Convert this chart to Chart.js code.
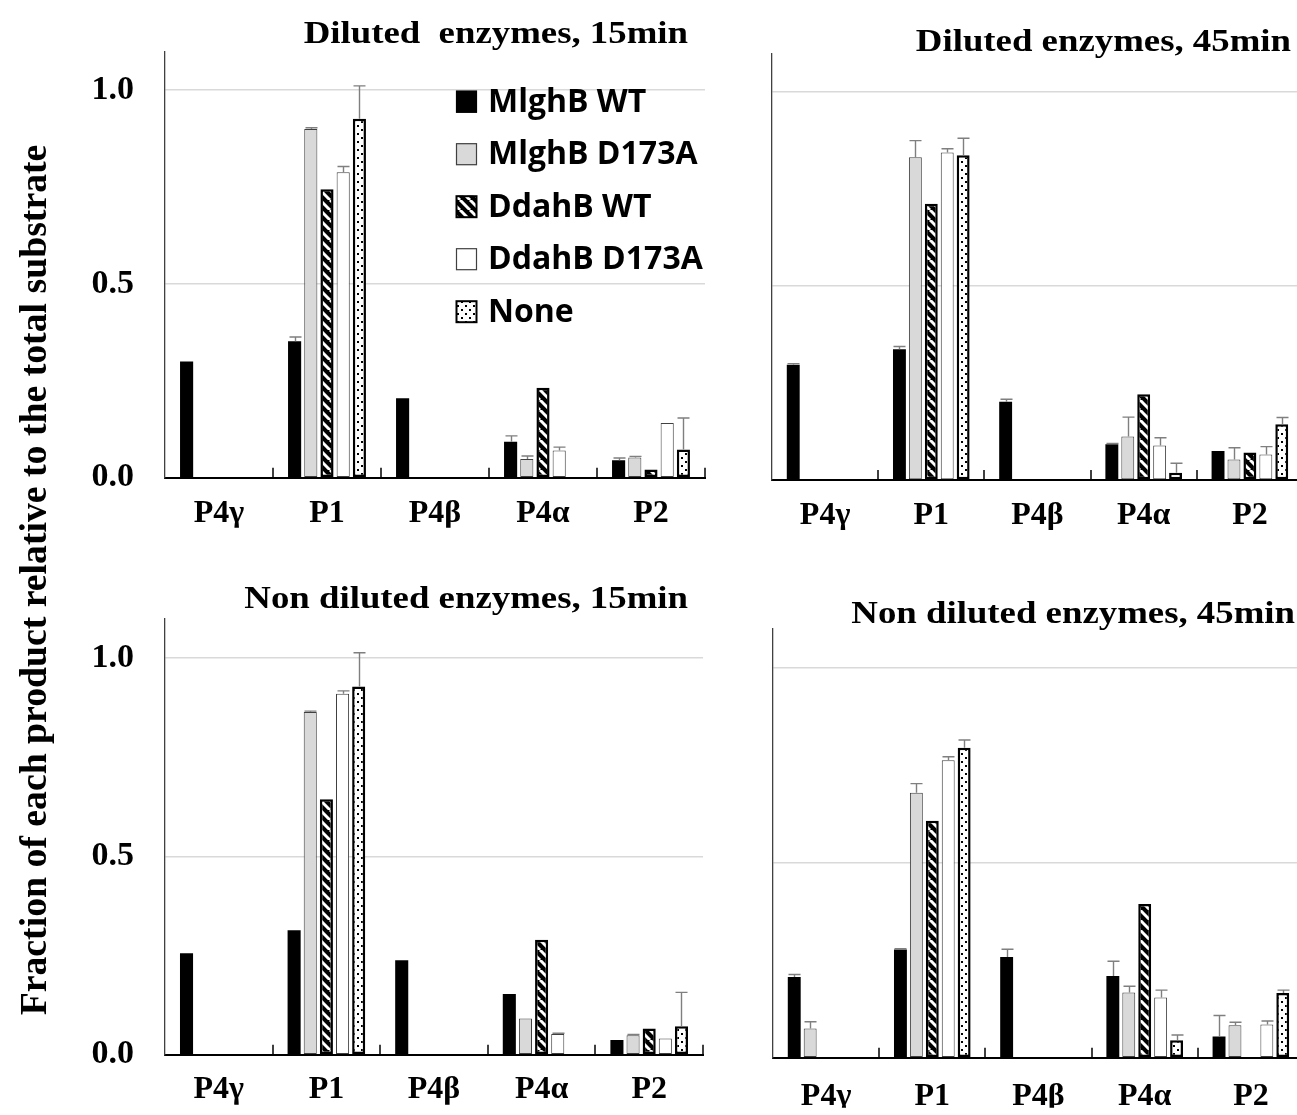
<!DOCTYPE html>
<html><head><meta charset="utf-8">
<script src="https://cdn.jsdelivr.net/npm/chart.js@4.4.0/dist/chart.umd.min.js"></script>
<style>
html,body{margin:0;padding:0;background:#fff;overflow:hidden;}
#wrap{position:relative;width:1297px;height:1115px;overflow:hidden;background:#fff;}
#wrap canvas{position:absolute;left:0;top:0;}
</style></head>
<body><div id="wrap">
<canvas id="c1" width="1310" height="1115"></canvas>
<canvas id="c2" width="1310" height="1115"></canvas>
<canvas id="c3" width="1310" height="1115"></canvas>
<canvas id="c4" width="1310" height="1115"></canvas>
</div>
<script>
// ---------------- DATA ----------------
const categories = ['P4γ', 'P1', 'P4β', 'P4α', 'P2'];
const seriesNames = ['MlghB WT', 'MlghB D173A', 'DdahB WT', 'DdahB D173A', 'None'];
const panelTitles = ['Diluted  enzymes, 15min', 'Diluted enzymes, 45min', 'Non diluted enzymes, 15min', 'Non diluted enzymes, 45min'];
const yAxisTitle = 'Fraction of each product relative to the total substrate';

// values per series (rows) for categories P4γ, P1, P4β, P4α, P2
const diluted15Values = [
  [0.300, 0.352, 0.205, 0.093, 0.045],
  [null,  0.900, null,  0.048, 0.052],
  [null,  0.744, null,  0.232, 0.021],
  [null,  0.788, null,  0.070, 0.141],
  [null,  0.926, null,  null,  0.073]
];
const diluted15Errors = [
  [0, 0.011, 0, 0.015, 0.006],
  [0, 0.003, 0, 0.008, 0.003],
  [0, 0, 0, 0, 0],
  [0, 0.015, 0, 0.009, 0],
  [0, 0.085, 0, 0, 0.081]
];
const diluted45Values = [
  [0.297, 0.337, 0.202, 0.092, 0.075],
  [null,  0.832, null,  0.112, 0.053],
  [null,  0.712, null,  0.221, 0.071],
  [null,  0.844, null,  0.089, 0.066],
  [null,  0.837, null,  0.019, 0.144]
];
const diluted45Errors = [
  [0.003, 0.007, 0.006, 0.002, 0],
  [0, 0.043, 0, 0.050, 0.030],
  [0, 0, 0, 0, 0],
  [0, 0.010, 0, 0.020, 0.020],
  [0, 0.044, 0, 0.024, 0.017]
];
const nonDiluted15Values = [
  [0.256, 0.314, 0.238, 0.153, 0.037],
  [null,  0.864, null,  0.091, 0.049],
  [null,  0.644, null,  0.290, 0.066],
  [null,  0.910, null,  0.052, 0.041],
  [null,  0.928, null,  null,  0.072]
];
const nonDiluted15Errors = [
  [0, 0, 0, 0, 0],
  [0, 0.002, 0, 0, 0.002],
  [0, 0, 0, 0, 0],
  [0, 0.007, 0, 0.002, 0],
  [0, 0.085, 0, 0, 0.085]
];
const nonDiluted45Values = [
  [0.207, 0.277, 0.258, 0.209, 0.054],
  [0.075, 0.679, null,  0.167, 0.083],
  [null,  0.607, null,  0.394, null],
  [null,  0.762, null,  0.154, 0.085],
  [null,  0.794, null,  0.045, 0.166]
];
const nonDiluted45Errors = [
  [0.006, 0.002, 0.020, 0.038, 0.054],
  [0.017, 0.023, 0, 0.016, 0.008],
  [0, 0, 0, 0, 0],
  [0, 0.009, 0, 0.019, 0.009],
  [0, 0.020, 0, 0.013, 0.007]
];
const yMin = 0, yMax = 1.1, yStep = 0.5;

// ---------------- STYLES ----------------
function makeHatch() {
  const c = document.createElement('canvas'); c.width = 10; c.height = 10;
  const g = c.getContext('2d');
  g.fillStyle = '#000'; g.fillRect(0, 0, 10, 10);
  g.strokeStyle = '#fff'; g.lineWidth = 3;
  for (const k of [-10, 0, 10]) { g.beginPath(); g.moveTo(k, 0); g.lineTo(k + 10, 10); g.stroke(); }
  return g.createPattern(c, 'repeat');
}
function makeDots() {
  const c = document.createElement('canvas'); c.width = 8; c.height = 8;
  const g = c.getContext('2d');
  g.fillStyle = '#fff'; g.fillRect(0, 0, 8, 8);
  g.fillStyle = '#000'; g.fillRect(1, 1, 2, 2); g.fillRect(5, 5, 2, 2);
  return g.createPattern(c, 'repeat');
}
const hatch = makeHatch(), dots = makeDots();
const seriesStyles = [
  { bg: '#000000', border: '#000000', bw: 0 },
  { bg: '#d9d9d9', border: '#404040', bw: 1 },
  { bg: hatch, border: '#000000', bw: 2.5 },
  { bg: '#ffffff', border: '#404040', bw: 1 },
  { bg: dots, border: '#000000', bw: 2.5 }
];
const serif = '"Liberation Serif", "Times New Roman", serif';

// ---------------- PLUGINS ----------------
const errorBarsPlugin = {
  id: 'errorBars',
  afterDatasetsDraw(chart, args, opts) {
    const errs = opts.errors; if (!errs) return;
    const ctx = chart.ctx, ys = chart.scales.y;
    ctx.save(); ctx.strokeStyle = '#7f7f7f'; ctx.lineWidth = 1.4;
    chart.data.datasets.forEach((ds, i) => {
      const meta = chart.getDatasetMeta(i);
      meta.data.forEach((el, j) => {
        const v = ds.data[j], e = errs[i][j];
        if (v == null || !e) return;
        const yt = ys.getPixelForValue(v + e);
        const x = Math.round(el.x) + 0.5;
        ctx.beginPath();
        ctx.moveTo(x, el.y); ctx.lineTo(x, yt);
        ctx.moveTo(x - 6, yt); ctx.lineTo(x + 6, yt);
        ctx.stroke();
      });
    });
    ctx.restore();
  }
};
const boundaryTicksPlugin = {
  id: 'boundaryTicks',
  afterDraw(chart) {
    const xs = chart.scales.x, ctx = chart.ctx, yb = chart.chartArea.bottom;
    ctx.save(); ctx.strokeStyle = '#000'; ctx.lineWidth = 1.5;
    for (let i = 1; i <= categories.length; i++) {
      const x = Math.round(xs.getPixelForValue(i - 0.5));
      ctx.beginPath(); ctx.moveTo(x, yb); ctx.lineTo(x, yb - 10); ctx.stroke();
    }
    ctx.restore();
  }
};
const panelTitlePlugin = {
  id: 'panelTitle',
  afterDraw(chart, args, opts) {
    if (!opts.text) return;
    const ctx = chart.ctx;
    ctx.save();
    ctx.translate(opts.right, opts.baseline);
    ctx.scale(1.15, 1);
    ctx.font = '700 32px ' + serif;
    ctx.fillStyle = '#000'; ctx.textAlign = 'right'; ctx.textBaseline = 'alphabetic';
    ctx.fillText(opts.text, 0, 0);
    ctx.restore();
  }
};
const legendPlugin = {
  id: 'patternLegend',
  afterDatasetsDraw(chart, args, opts) {
    if (!opts.show) return;
    const ctx = chart.ctx;
    ctx.save();
    chart.data.datasets.forEach((ds, i) => {
      const cy = opts.top + i * opts.step;
      const st = seriesStyles[i];
      ctx.fillStyle = st.bg;
      ctx.fillRect(opts.x, cy - 11, 21, 22);
      ctx.strokeStyle = st.border; ctx.lineWidth = st.bw > 1 ? 2 : 1.2;
      ctx.strokeRect(opts.x + 0.5, cy - 10.5, 20, 21);
      ctx.fillStyle = '#000';
      ctx.font = '700 32px "Open Sans", sans-serif';
      ctx.textAlign = 'left'; ctx.textBaseline = 'middle';
      ctx.fillText(ds.label, opts.x + 32, cy + 1);
    });
    ctx.restore();
  }
};
const sideTitlePlugin = {
  id: 'sideTitle',
  afterDraw(chart, args, opts) {
    if (!opts.text) return;
    const ctx = chart.ctx;
    ctx.save();
    ctx.translate(opts.x, opts.y);
    ctx.rotate(-Math.PI / 2);
    ctx.scale(1.02, 1);
    ctx.font = '700 37px ' + serif;
    ctx.fillStyle = '#000'; ctx.textAlign = 'center'; ctx.textBaseline = 'middle';
    ctx.fillText(opts.text, 0, 0);
    ctx.restore();
  }
};

// ---------------- BUILD ----------------
function buildPanel(canvasId, values, errors, title, layout) {
  const datasets = seriesNames.map((name, i) => ({
    label: name,
    data: values[i],
    backgroundColor: seriesStyles[i].bg,
    borderColor: seriesStyles[i].border,
    borderWidth: seriesStyles[i].bw,
    borderSkipped: false,
    categoryPercentage: 0.75,
    barPercentage: 0.81
  }));
  return new Chart(document.getElementById(canvasId), {
    type: 'bar',
    data: { labels: categories, datasets },
    plugins: [errorBarsPlugin, boundaryTicksPlugin, panelTitlePlugin, legendPlugin, sideTitlePlugin],
    options: {
      responsive: false, animation: false, devicePixelRatio: 1,
      layout: { padding: layout.pad },
      plugins: {
        legend: { display: false }, title: { display: false }, tooltip: { enabled: false },
        errorBars: { errors },
        panelTitle: { text: title, right: layout.titleRight, baseline: layout.titleBase },
        patternLegend: { show: !!layout.legend, x: 456, top: 101.7, step: 52.5 },
        sideTitle: layout.side ? { text: yAxisTitle, x: 36, y: 580 } : {}
      },
      scales: {
        x: {
          grid: { display: false, drawTicks: false },
          border: { display: true, color: '#000', width: 2 },
          ticks: { color: '#000', font: { family: serif, size: 32, weight: '700' }, padding: layout.xPad, maxRotation: 0, autoSkip: false },
          afterFit(s) { s.height = 50; }
        },
        y: {
          min: yMin, max: yMax,
          grid: { color: '#d9d9d9', lineWidth: 1.5, drawTicks: false },
          border: { display: true, color: '#404040', width: 1.3 },
          ticks: {
            display: layout.yLabels, stepSize: yStep, color: '#000', padding: 31,
            font: { family: serif, size: 34, weight: '700' },
            callback: v => Number(v).toFixed(1)
          },
          afterBuildTicks(s) { s.ticks = s.ticks.filter(t => t.value <= 1.0001); },
          afterFit(s) { s.width = layout.yLabels ? 90 : 10; }
        }
      }
    }
  });
}

buildPanel('c1', diluted15Values, diluted15Errors, panelTitles[0],
  { pad: { left: 75, top: 45.7, right: 605, bottom: 587.3 }, yLabels: true, xPad: 17, titleRight: 688, titleBase: 43, legend: true, side: true });
buildPanel('c2', diluted45Values, diluted45Errors, panelTitles[1],
  { pad: { left: 762, top: 53.3, right: 7, bottom: 585 }, yLabels: false, xPad: 17, titleRight: 1291, titleBase: 51 });
buildPanel('c3', nonDiluted15Values, nonDiluted15Errors, panelTitles[2],
  { pad: { left: 75, top: 618.3, right: 607, bottom: 10.3 }, yLabels: true, xPad: 16, titleRight: 688, titleBase: 608 });
buildPanel('c4', nonDiluted45Values, nonDiluted45Errors, panelTitles[3],
  { pad: { left: 763, top: 628.3, right: 6, bottom: 7.3 }, yLabels: false, xPad: 20, titleRight: 1295, titleBase: 623 });
</script>
</body></html>
